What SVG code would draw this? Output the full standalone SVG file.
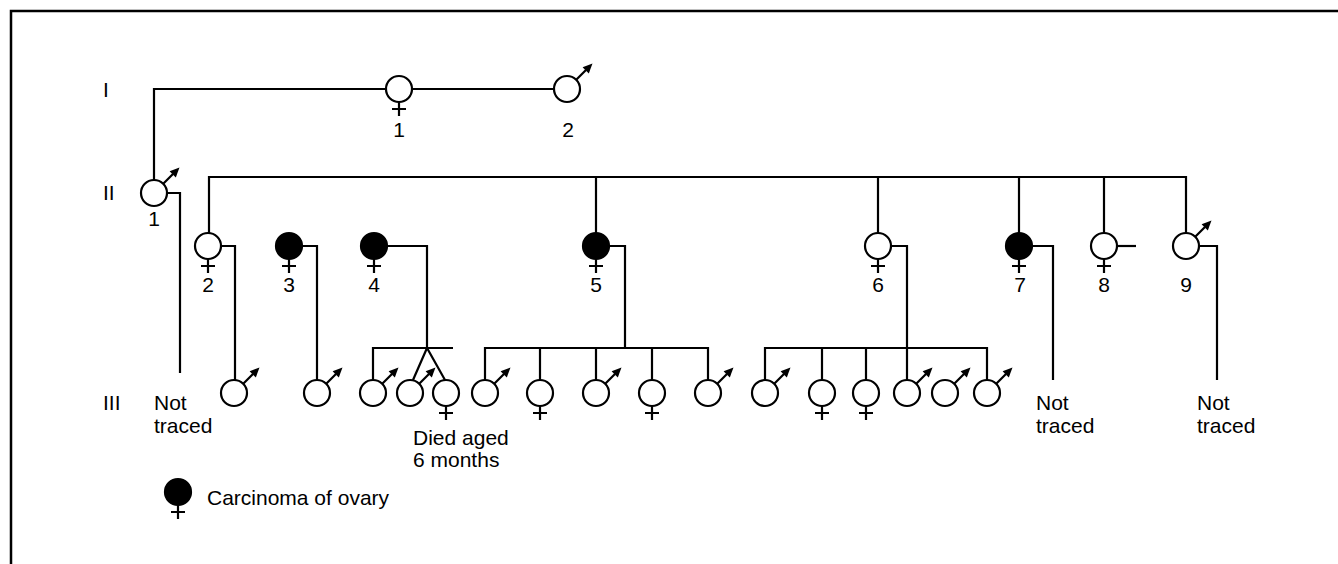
<svg xmlns="http://www.w3.org/2000/svg" xmlns:xlink="http://www.w3.org/1999/xlink" width="1338" height="564" viewBox="0 0 1338 564">
<style>
.ln{fill:none;stroke:#000;stroke-width:2.2}
text{font-family:"Liberation Sans",Arial,Helvetica,sans-serif;font-size:21px;fill:#000}
.c{text-anchor:middle}
</style>
<defs>
<g id="male"><circle r="13" fill="#fff" stroke="#000" stroke-width="2.2"/><line x1="9.2" y1="-9.2" x2="19" y2="-19" stroke="#000" stroke-width="2.2"/><polygon points="25.5,-25.5 15.6,-21.8 21.8,-15.6" fill="#000"/></g>
<g id="fem"><circle r="13" fill="#fff" stroke="#000" stroke-width="2.2"/><path d="M0,13V27M-7,20H7" fill="none" stroke="#000" stroke-width="2.2"/></g>
<g id="femA"><circle r="13" fill="#000" stroke="#000" stroke-width="2.2"/><path d="M0,13V27M-7,20H7" fill="none" stroke="#000" stroke-width="2.2"/></g>
</defs>
<rect width="1338" height="564" fill="#fff"/>
<path d="M11,564V11H1338" fill="none" stroke="#000" stroke-width="2.5"/>
<g id="gen-labels">
<text x="103" y="97">I</text>
<text x="103" y="200">II</text>
<text x="103" y="410">III</text>
</g>
<g id="connectors" class="ln">
<path d="M154,180V89H554"/>
<path d="M167,193H180V373"/>
<path d="M209,233V177H1186V234M596,177V233M878,177V233M1019,177V233M1104,177V233"/>
<path d="M221,246H235V380"/>
<path d="M302,246H317V380"/>
<path d="M387,246H427V348M373,380V348H453M413,380L427,348L445,380"/>
<path d="M609,246H625V348M485,380V348H708V380M540,348V380M596,348V380M652,348V380"/>
<path d="M891,246H907V380M765,380V348H987V380M822,348V380M866,348V380"/>
<path d="M1032,246H1053V380"/>
<path d="M1117,246H1136"/>
<path d="M1199,246H1217V380"/>
</g>
<g id="I-1"><use xlink:href="#fem" x="399" y="89"/><text class="c" x="399" y="137">1</text></g>
<g id="I-2"><use xlink:href="#male" x="567" y="89"/><text class="c" x="568" y="137">2</text></g>
<g id="II-1"><use xlink:href="#male" x="154" y="193"/><text class="c" x="154" y="226">1</text></g>
<g id="II-2"><use xlink:href="#fem" x="208" y="246"/><text class="c" x="208" y="292">2</text></g>
<g id="II-3"><use xlink:href="#femA" x="289" y="246"/><text class="c" x="289" y="292">3</text></g>
<g id="II-4"><use xlink:href="#femA" x="374" y="246"/><text class="c" x="374" y="292">4</text></g>
<g id="II-5"><use xlink:href="#femA" x="596" y="246"/><text class="c" x="596" y="292">5</text></g>
<g id="II-6"><use xlink:href="#fem" x="878" y="246"/><text class="c" x="878" y="292">6</text></g>
<g id="II-7"><use xlink:href="#femA" x="1019" y="246"/><text class="c" x="1020" y="292">7</text></g>
<g id="II-8"><use xlink:href="#fem" x="1104" y="246"/><text class="c" x="1104" y="292">8</text></g>
<g id="II-9"><use xlink:href="#male" x="1186" y="246"/><text class="c" x="1186" y="292">9</text></g>
<g id="II-1-not-traced"><text x="154" y="410">Not</text><text x="154" y="433">traced</text></g>
<g id="II-7-not-traced"><text x="1036" y="410">Not</text><text x="1036" y="433">traced</text></g>
<g id="II-9-not-traced"><text x="1197" y="410">Not</text><text x="1197" y="433">traced</text></g>
<g id="III-1"><use xlink:href="#male" x="234" y="393"/></g>
<g id="III-2"><use xlink:href="#male" x="317" y="393"/></g>
<g id="III-3"><use xlink:href="#male" x="373" y="393"/></g>
<g id="III-4"><use xlink:href="#male" x="410" y="393"/></g>
<g id="III-5"><use xlink:href="#fem" x="446" y="393"/><text x="413" y="445">Died aged</text><text x="413" y="467">6 months</text></g>
<g id="III-6"><use xlink:href="#male" x="485" y="393"/></g>
<g id="III-7"><use xlink:href="#fem" x="540" y="393"/></g>
<g id="III-8"><use xlink:href="#male" x="596" y="393"/></g>
<g id="III-9"><use xlink:href="#fem" x="652" y="393"/></g>
<g id="III-10"><use xlink:href="#male" x="708" y="393"/></g>
<g id="III-11"><use xlink:href="#male" x="765" y="393"/></g>
<g id="III-12"><use xlink:href="#fem" x="822" y="393"/></g>
<g id="III-13"><use xlink:href="#fem" x="866" y="393"/></g>
<g id="III-14"><use xlink:href="#male" x="907" y="393"/></g>
<g id="III-15"><use xlink:href="#male" x="945" y="393"/></g>
<g id="III-16"><use xlink:href="#male" x="987" y="393"/></g>
<g id="legend"><use xlink:href="#femA" x="178" y="492"/><text x="207" y="505">Carcinoma of ovary</text></g>
</svg>
